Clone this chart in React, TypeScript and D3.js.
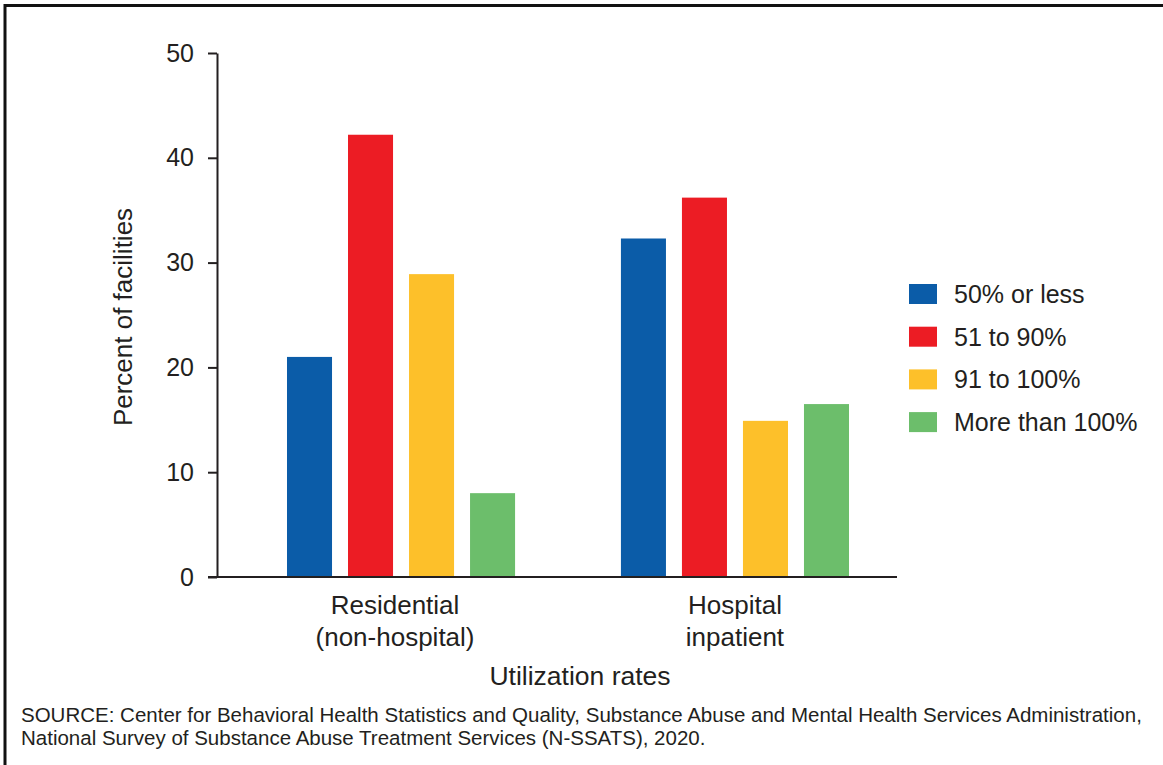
import React, { useEffect, useRef } from "react";
import * as d3 from "d3";

const categories = ["Residential|(non-hospital)", "Hospital|inpatient"];
const seriesNames = ["50% or less", "51 to 90%", "91 to 100%", "More than 100%"];
const residential = [21.0, 42.2, 28.9, 8.0];
const hospital = [32.3, 36.2, 14.9, 16.5];
const yTicks = [0, 10, 20, 30, 40, 50];
const colors = ["#0B5CA8", "#EC1C24", "#FDC02A", "#6CBE6B"];
const sourceLines = [
  "SOURCE: Center for Behavioral Health Statistics and Quality, Substance Abuse and Mental Health Services Administration,",
  "National Survey of Substance Abuse Treatment Services (N-SSATS), 2020.",
];

const W = 1163;
const H = 765;
const FONT = "'Liberation Sans', Arial, Helvetica, sans-serif";
const TEXT = "#231f20";

export default function App() {
  const yAxisRef = useRef<SVGGElement>(null);

  const y = d3.scaleLinear().domain([0, 50]).range([577, 53]);
  const x0 = d3
    .scaleBand<string>()
    .domain(categories)
    .range([234, 902])
    .paddingInner(0.317)
    .paddingOuter(0.1587);
  const x1 = d3
    .scaleBand<string>()
    .domain(seriesNames)
    .range([0, x0.bandwidth()])
    .paddingInner(0.262)
    .paddingOuter(0);

  const data = [residential, hospital];

  useEffect(() => {
    document.body.style.margin = "0";
    if (!yAxisRef.current) return;
    const g = d3.select(yAxisRef.current);
    g.call(
      d3
        .axisLeft(y)
        .tickValues(yTicks)
        .tickSize(9)
        .tickSizeOuter(0)
        .tickPadding(14)
        .tickFormat(d3.format("d"))
    );
    g.select(".domain").attr("stroke", TEXT).attr("stroke-width", 2);
    g.selectAll(".tick line").attr("stroke", TEXT).attr("stroke-width", 2);
    g.selectAll(".tick text")
      .attr("fill", TEXT)
      .style("font-family", FONT)
      .style("font-size", "25px");
  }, []);

  return (
    <svg width={W} height={H} style={{ display: "block", background: "#fff" }}>
      {/* frame */}
      <line x1={4} y1={5.5} x2={W} y2={5.5} stroke="#111" strokeWidth={3} />
      <line x1={5} y1={4} x2={5} y2={H} stroke="#111" strokeWidth={3} />

      {/* bars */}
      {categories.map((c, ci) => (
        <g key={c} transform={`translate(${x0(c)},0)`}>
          {seriesNames.map((s, si) => (
            <rect
              key={s}
              x={x1(s)}
              y={y(data[ci][si])}
              width={x1.bandwidth()}
              height={y(0) - y(data[ci][si])}
              fill={colors[si]}
            />
          ))}
        </g>
      ))}

      {/* y axis */}
      <g ref={yAxisRef} transform="translate(217,0)" />

      {/* x axis line */}
      <line x1={208} y1={y(0)} x2={897} y2={y(0)} stroke={TEXT} strokeWidth={2} />

      {/* category labels */}
      {categories.map((c, ci) => {
        const cx = (x0(c) as number) + x0.bandwidth() / 2 - (ci === 0 ? 6 : 0);
        const lines = c.split("|");
        return (
          <text
            key={c}
            x={cx}
            textAnchor="middle"
            fontFamily={FONT}
            fontSize={26}
            fill={TEXT}
          >
            {lines.map((l, i) => (
              <tspan key={i} x={cx} y={614 + i * 32}>
                {l}
              </tspan>
            ))}
          </text>
        );
      })}

      {/* x title */}
      <text x={580} y={685} textAnchor="middle" fontFamily={FONT} fontSize={26.5} fill={TEXT}>
        Utilization rates
      </text>

      {/* y title */}
      <text
        transform="translate(132,317) rotate(-90)"
        textAnchor="middle"
        fontFamily={FONT}
        fontSize={26}
        fill={TEXT}
      >
        Percent of facilities
      </text>

      {/* legend */}
      {seriesNames.map((s, i) => (
        <g key={s} transform={`translate(909,${284 + i * 42.7})`}>
          <rect x={0} y={0} width={28} height={20} fill={colors[i]} />
          <text x={45} y={19} fontFamily={FONT} fontSize={25} fill={TEXT}>
            {s}
          </text>
        </g>
      ))}

      {/* source */}
      {sourceLines.map((l, i) => (
        <text key={i} x={21} y={722 + i * 23} fontFamily={FONT} fontSize={20.5} fill={TEXT}>
          {l}
        </text>
      ))}
    </svg>
  );
}
